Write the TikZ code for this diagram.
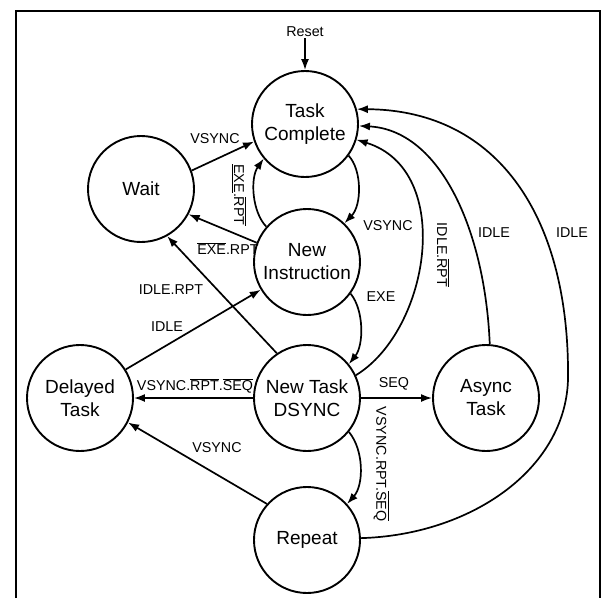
\documentclass[tikz,border=0pt]{standalone}
\usepackage{fontspec}
\setmainfont{Liberation Sans}
\usetikzlibrary{arrows.meta}
\newcommand\ovl[1]{$\overline{\hbox{#1}}$}
\begin{document}
\begin{tikzpicture}[x=1pt,y=-1pt,
  state/.style={circle,draw,line width=1.9pt,minimum size=106pt,inner sep=0pt,align=center,font=\fontsize{19}{23}\selectfont},
  lbl/.style={font=\fontsize{14.3}{16}\selectfont,inner sep=1pt},
  edge/.style={line width=1.7pt,-{Latex[length=11pt,width=8pt]}},
  frame/.style={line width=2.6pt}]
\useasboundingbox (0,0) rectangle (616,598);
\draw[frame] (16,598) -- (16,11) -- (600,11) -- (600,598);

\node[state] (TC) at (305,124) {Task\\Complete};
\node[state] (W) at (141,189) {Wait};
\node[state] (NI) at (307,262) {New\\Instruction};
\node[state] (DT) at (80,398) {Delayed\\Task};
\node[state] (NT) at (307,398) {New Task\\DSYNC};
\node[state] (AT) at (486,398) {Async\\Task};
\node[state] (RP) at (307,540) {Repeat};

\node[lbl] (reset) at (305,32) {Reset};
\draw[edge] (reset) -- (TC);
\draw[edge] (W.20) -- (TC.199);
\draw[edge] (NI.139) .. controls (252,212) and (250,178) .. (TC.220);
\draw[edge] (TC.-36) .. controls (362,170) and (362,205) .. (NI.46);
\draw[edge] (NI.159) -- (W.-28);
\draw[edge] (NT.124) -- (W.-61);
\draw[edge] (DT.32) -- (NI.211);
\draw[edge] (NT.west) -- (DT.east);
\draw[edge] (RP.138) -- (DT.-27);
\draw[edge] (NI.-36) .. controls (364,310) and (364,345) .. (NT.39);
\draw[edge] (NT.east) -- (AT.west);
\draw[edge] (NT.-39) .. controls (364,450) and (364,485) .. (RP.42);
\draw[edge] (NT.25) .. controls (430,330) and (455,170) .. (TC.-17);
\draw[edge] (AT.86) .. controls (485,230) and (440,130) .. (TC.-2);
\draw[edge] (RP.2) .. controls (470,535) and (565,470) .. (568,380) .. controls (570,220) and (500,110) .. (TC.16);

\node[lbl] (l1) at (215,139) {VSYNC};
\node[lbl,rotate=-90] (l2) at (239,195) {\underline{EXE}.\ovl{RPT}};
\node[lbl] (l3) at (388,226) {VSYNC};
\node[lbl] (l4) at (228,249) {\ovl{EXE}.RPT};
\node[lbl] (l5) at (171,290) {IDLE.RPT};
\node[lbl] (l6) at (167,327) {IDLE};
\node[lbl] (l7) at (195,386) {VSYNC.\ovl{RPT}.\ovl{SEQ}};
\node[lbl] (l8) at (217,448) {VSYNC};
\node[lbl] (l9) at (381,297) {EXE};
\node[lbl] (l10) at (394,384) {SEQ};
\node[lbl,rotate=-90] (l11) at (381,464) {VSYNC.RPT.\ovl{SEQ}};
\node[lbl,rotate=-90] (l12) at (443,255) {IDLE.\ovl{RPT}};
\node[lbl] (l13) at (494,233) {IDLE};
\node[lbl] (l14) at (572,233) {IDLE};
\end{tikzpicture}
\end{document}
